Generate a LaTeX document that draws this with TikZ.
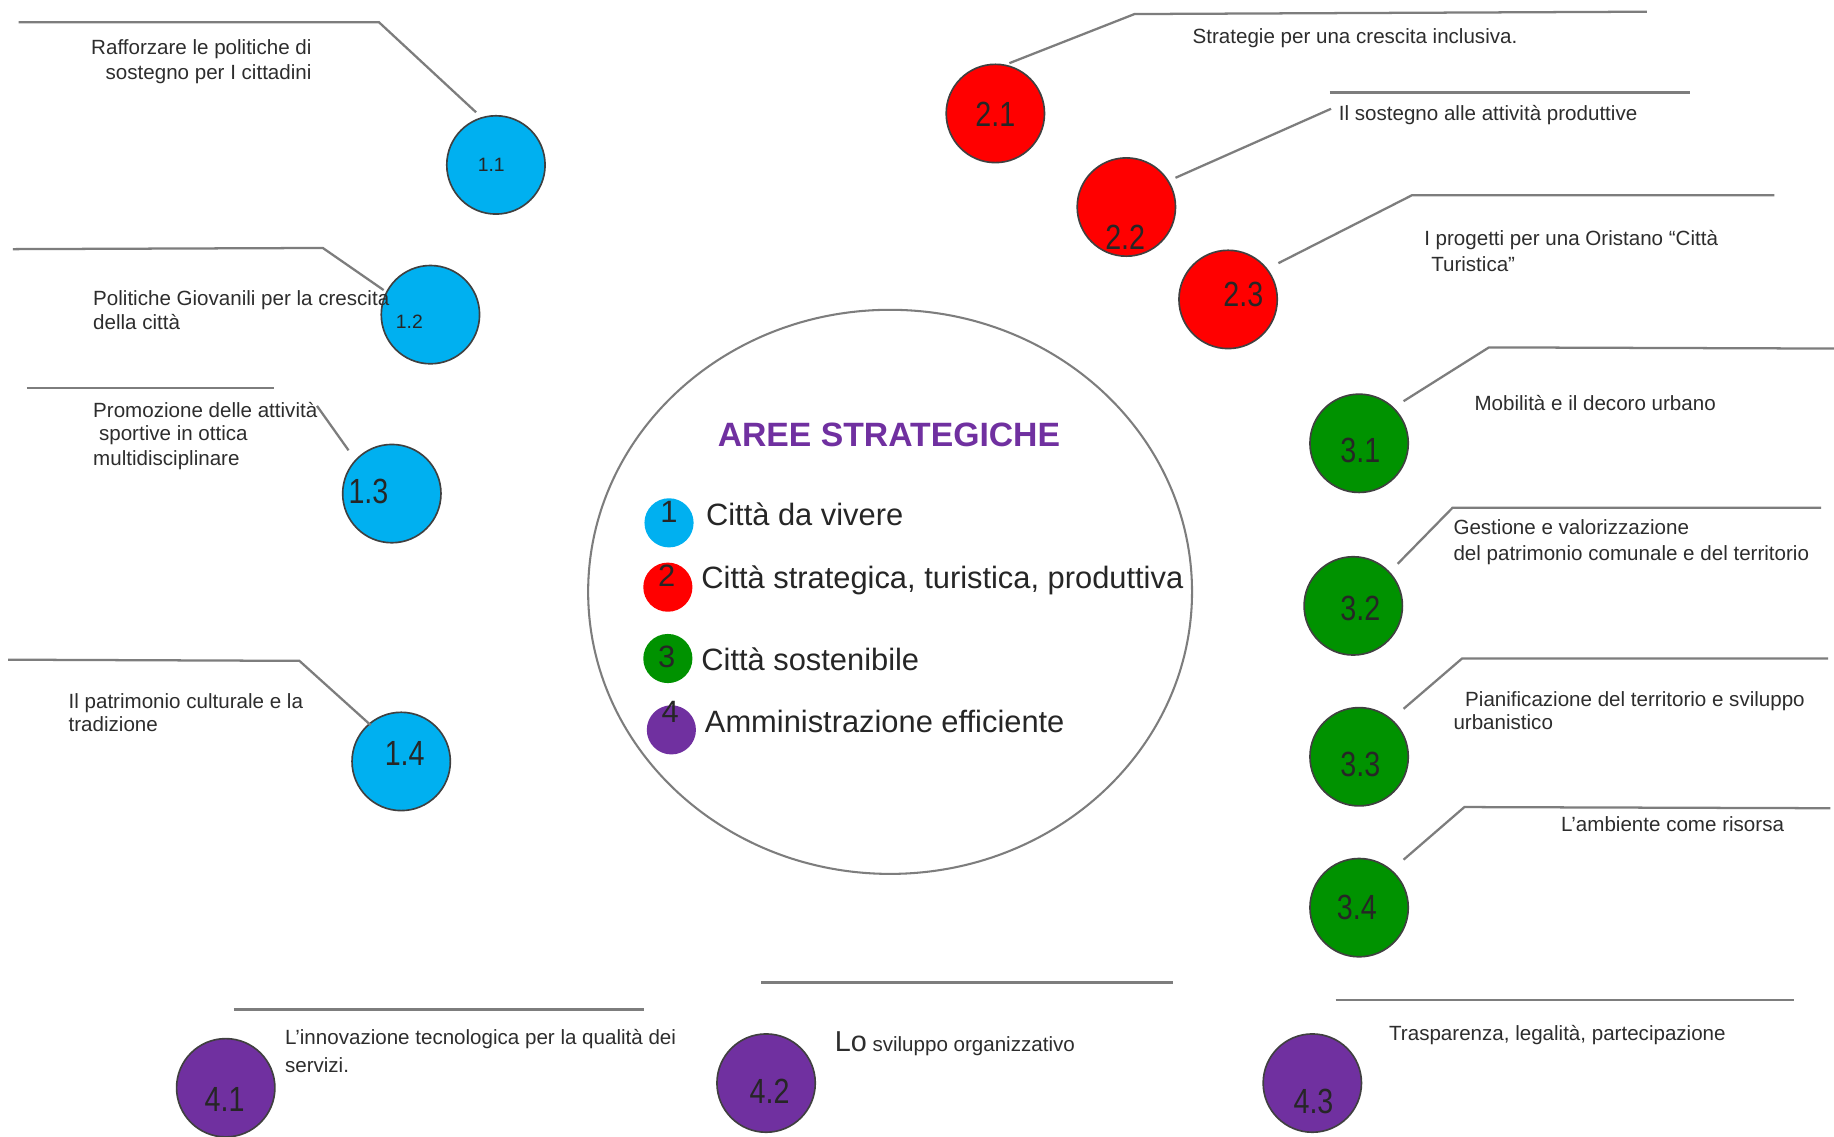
\documentclass[tikz,border=0pt]{standalone}
\usepackage{fontspec}
\setmainfont{Liberation Sans}
\usetikzlibrary{shapes.geometric}
\definecolor{cblue}{RGB}{0,176,240}
\definecolor{cred}{RGB}{255,0,0}
\definecolor{cgreen}{RGB}{0,146,0}
\definecolor{cpurple}{RGB}{112,48,160}
\definecolor{leadc}{RGB}{125,125,125}
\definecolor{txtc}{RGB}{45,45,45}
\begin{document}
\begin{tikzpicture}[x=0.01cm,y=-0.01cm,
  bub/.style={circle, draw=black!75, line width=0.4pt, minimum size=0.84cm, inner sep=0pt},
  dot/.style={circle, minimum size=0.42cm, inner sep=0pt},
  leadline/.style={draw=leadc, line width=0.55pt},
  desc/.style={font=\fontsize{5}{6}\selectfont, text=txtc, inner sep=0pt, anchor=base west},
  descr/.style={desc, anchor=base east},
  num/.style={font=\fontsize{8.5}{9}\selectfont, xscale=0.82, inner sep=0pt, text=black!85},
  smallnum/.style={font=\fontsize{4.7}{5}\selectfont, inner sep=0pt, text=black!85},
  legtxt/.style={font=\fontsize{7.5}{9}\selectfont, text=black!85, inner sep=0pt, anchor=base west},
  legnum/.style={font=\fontsize{7.5}{9}\selectfont, text=black!85, inner sep=0pt}
]
\useasboundingbox (0,0) rectangle (1568,972);
\fill[white] (0,0) rectangle (1568,972);

% central ellipse
\node[draw=leadc, line width=0.5pt, ellipse, minimum width=5.16cm, minimum height=4.82cm, inner sep=0pt] (main) at (761,506) {};
\node[font=\bfseries\fontsize{8.2}{10}\selectfont, text=cpurple, inner sep=0pt, anchor=base] (title) at (760,382) {AREE STRATEGICHE};

\node[dot, fill=cblue] (d1) at (572,447) {};
\node[dot, fill=cred] (d2) at (571,502) {};
\node[dot, fill=cgreen] (d3) at (571,563) {};
\node[dot, fill=cpurple] (d4) at (574,624) {};
\node[legnum] (n1) at (572,438) {1};
\node[legnum] (n2) at (570,492) {2};
\node[legnum] (n3) at (570,562) {3};
\node[legnum] (n4) at (573,609) {4};
\node[legtxt] (l1) at (603,449) {Città da vivere};
\node[legtxt] (l2) at (599,503) {Città strategica, turistica, produttiva};
\node[legtxt] (l3) at (599,573) {Città sostenibile};
\node[legtxt] (l4) at (602,626) {Amministrazione efficiente};

% bubbles
\node[bub, fill=cblue] (c11) at (424,141) {};
\node[bub, fill=cblue] (c12) at (368,269) {};
\node[bub, fill=cblue] (c13) at (335,422) {};
\node[bub, fill=cblue] (c14) at (343,651) {};
\node[bub, fill=cred] (c21) at (851,97) {};
\node[bub, fill=cred] (c22) at (963,177) {};
\node[bub, fill=cred] (c23) at (1050,256) {};
\node[bub, fill=cgreen] (c31) at (1162,379) {};
\node[bub, fill=cgreen] (c32) at (1157,518) {};
\node[bub, fill=cgreen] (c33) at (1162,647) {};
\node[bub, fill=cgreen] (c34) at (1162,776) {};
\node[bub, fill=cpurple] (c41) at (193,930) {};
\node[bub, fill=cpurple] (c42) at (655,926) {};
\node[bub, fill=cpurple] (c43) at (1122,926) {};

\node[smallnum] (m11) at (420,141) {1.1};
\node[smallnum] (m12) at (350,275) {1.2};
\node[num] (m13) at (315,420) {1.3};
\node[num] (m14) at (346,644) {1.4};
\node[num] (m21) at (851,98) {2.1};
\node[num] (m22) at (962,203) {2.2};
\node[num] (m23) at (1063,252) {2.3};
\node[num] (m31) at (1163,385) {3.1};
\node[num] (m32) at (1163,520) {3.2};
\node[num] (m33) at (1163,654) {3.3};
\node[num] (m34) at (1160,776) {3.4};
\node[num] (m41) at (192,940) {4.1};
\node[num] (m42) at (658,933) {4.2};
\node[num] (m43) at (1123,942) {4.3};

% leader line points
\coordinate (p11a) at (16,19);   \coordinate (p11b) at (324,19);  \coordinate (p11c) at (407,96);
\coordinate (p12a) at (11,213);  \coordinate (p12b) at (276,212); \coordinate (p12c) at (328,248);
\coordinate (p13a) at (23,332);  \coordinate (p13b) at (234,332);
\coordinate (p13c) at (271,347); \coordinate (p13d) at (298,385);
\coordinate (p14a) at (7,564);   \coordinate (p14b) at (256,565); \coordinate (p14c) at (317,620);
\coordinate (p21a) at (863,54);  \coordinate (p21b) at (970,12);  \coordinate (p21c) at (1408,10);
\coordinate (p22a) at (1005,152); \coordinate (p22b) at (1138,93);
\coordinate (p22c) at (1137,79); \coordinate (p22d) at (1445,79);
\coordinate (p23a) at (1093,225); \coordinate (p23b) at (1207,167); \coordinate (p23c) at (1517,167);
\coordinate (p31a) at (1200,343); \coordinate (p31b) at (1273,297); \coordinate (p31c) at (1568,298);
\coordinate (p32a) at (1195,482); \coordinate (p32b) at (1242,434); \coordinate (p32c) at (1557,434);
\coordinate (p33a) at (1200,606); \coordinate (p33b) at (1250,563); \coordinate (p33c) at (1563,563);
\coordinate (p34a) at (1200,735); \coordinate (p34b) at (1252,690); \coordinate (p34c) at (1565,691);
\coordinate (p41a) at (200,863); \coordinate (p41b) at (551,863);
\coordinate (p42a) at (651,840); \coordinate (p42b) at (1003,840);
\coordinate (p43a) at (1142,855); \coordinate (p43b) at (1534,855);

\draw[leadline] (p11a) -- (p11b) -- (p11c);
\draw[leadline] (p12a) -- (p12b) -- (p12c);
\draw[leadline] (p13a) -- (p13b);
\draw[leadline] (p13c) -- (p13d);
\draw[leadline] (p14a) -- (p14b) -- (p14c);
\draw[leadline] (p21a) -- (p21b) -- (p21c);
\draw[leadline] (p22a) -- (p22b);
\draw[leadline] (p22c) -- (p22d);
\draw[leadline] (p23a) -- (p23b) -- (p23c);
\draw[leadline] (p31a) -- (p31b) -- (p31c);
\draw[leadline] (p32a) -- (p32b) -- (p32c);
\draw[leadline] (p33a) -- (p33b) -- (p33c);
\draw[leadline] (p34a) -- (p34b) -- (p34c);
\draw[leadline] (p41a) -- (p41b);
\draw[leadline] (p42a) -- (p42b);
\draw[leadline] (p43a) -- (p43b);

% descriptions
\node[descr] (t11a) at (267,47) {Rafforzare le politiche di};
\node[descr] (t11b) at (267,68) {sostegno per I cittadini};
\node[desc] (t12a) at (79,261) {Politiche Giovanili per la crescita};
\node[desc] (t12b) at (79,282) {della città};
\node[desc] (t13a) at (79,357) {Promozione delle attività};
\node[desc] (t13b) at (84,377) {sportive in ottica};
\node[desc] (t13c) at (79,398) {multidisciplinare};
\node[desc] (t14a) at (58,606) {Il patrimonio culturale e la};
\node[desc] (t14b) at (58,625) {tradizione};
\node[desc] (t21) at (1019,37) {Strategie per una crescita inclusiva.};
\node[desc] (t22) at (1144,103) {Il sostegno alle attività produttive};
\node[desc] (t23a) at (1217,210) {I progetti per una Oristano “Città};
\node[desc] (t23b) at (1223,232) {Turistica”};
\node[desc] (t31) at (1260,351) {Mobilità e il decoro urbano};
\node[desc] (t32a) at (1242,457) {Gestione e valorizzazione};
\node[desc] (t32b) at (1242,479) {del patrimonio comunale e del territorio};
\node[desc] (t33a) at (1252,604) {Pianificazione del territorio e sviluppo};
\node[desc] (t33b) at (1242,624) {urbanistico};
\node[desc] (t34) at (1334,711) {L’ambiente come risorsa};
\node[desc] (t41a) at (243,893) {L’innovazione tecnologica per la qualità dei};
\node[desc] (t41b) at (243,917) {servizi.};
\node[desc] (t42) at (713,899) {{\fontsize{7}{8}\selectfont Lo} sviluppo organizzativo};
\node[desc] (t43) at (1187,890) {Trasparenza, legalità, partecipazione};
\end{tikzpicture}
\end{document}
